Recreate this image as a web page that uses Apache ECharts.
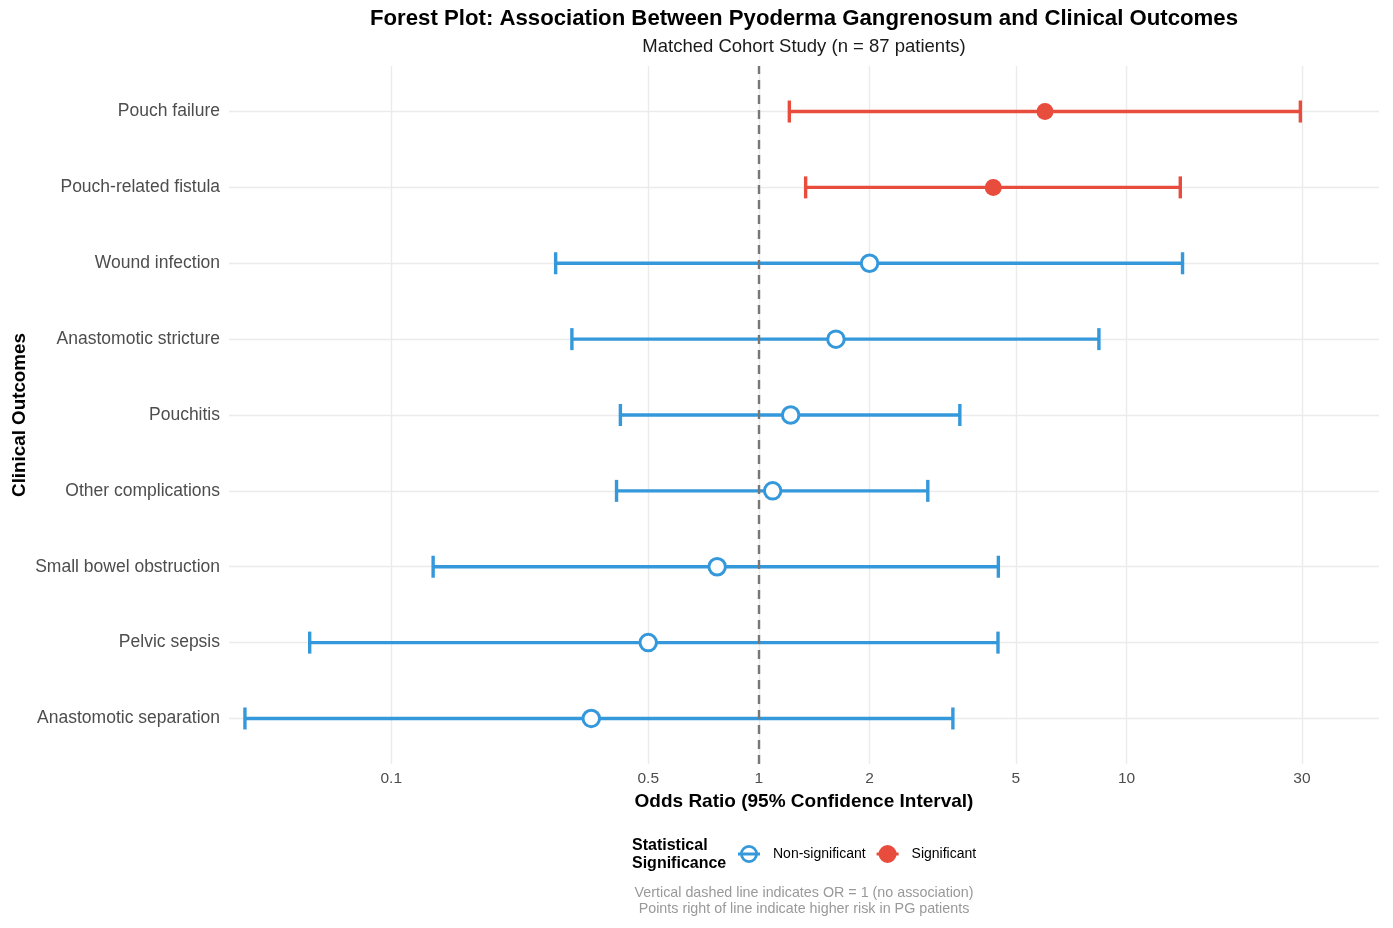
<!DOCTYPE html>
<html><head><meta charset="utf-8">
<script src="https://cdn.jsdelivr.net/npm/echarts@6/dist/echarts.min.js"></script>
<style>html,body{margin:0;padding:0;background:#fff}#c{width:1393px;height:928px}</style>
</head><body><div id="c"></div>
<script>
// ---- data (top row first) ----
const outcomes = ['Pouch failure','Pouch-related fistula','Wound infection','Anastomotic stricture','Pouchitis','Other complications','Small bowel obstruction','Pelvic sepsis','Anastomotic separation'];
const oddsRatio = [6.0, 4.34, 2.0, 1.62, 1.22, 1.09, 0.77, 0.50, 0.35];
const ciLower  = [1.21, 1.34, 0.28, 0.31, 0.42, 0.41, 0.13, 0.06, 0.04];
const ciUpper  = [29.7, 14.0, 14.2, 8.41, 3.52, 2.88, 4.48, 4.47, 3.37];
const xTicks = [0.1, 0.5, 1, 2, 5, 10, 30];
const legendNames = ['Non-significant', 'Significant'];

const FONT = 'Liberation Sans, Arial, Helvetica, sans-serif';
const BLUE = '#3498DB', RED = '#E74C3C';
const n = outcomes.length;
const yIndex = i => n - 1 - i;
const isSig = i => ciLower[i] > 1 || ciUpper[i] < 1;

const barData = {sig: [], non: []};
const ptData = {sig: [], non: []};
outcomes.forEach((o, i) => {
  const k = isSig(i) ? 'sig' : 'non';
  barData[k].push([ciLower[i], ciUpper[i], yIndex(i)]);
  ptData[k].push([oddsRatio[i], yIndex(i)]);
});

function makeBar(color) {
  return function (params, api) {
    const y = api.value(2);
    const p1 = api.coord([api.value(0), y]);
    const p2 = api.coord([api.value(1), y]);
    const h = 11;
    const st = {stroke: color, lineWidth: 3.4};
    return {type: 'group', children: [
      {type: 'line', shape: {x1: p1[0], y1: p1[1], x2: p2[0], y2: p2[1]}, style: st},
      {type: 'line', shape: {x1: p1[0], y1: p1[1] - h, x2: p1[0], y2: p1[1] + h}, style: st},
      {type: 'line', shape: {x1: p2[0], y1: p2[1] - h, x2: p2[0], y2: p2[1] + h}, style: st}
    ]};
  };
}

const ringIcon = 'path://M2,9 A9,9 0 1,1 20,9 A9,9 0 1,1 2,9 Z M4.8,9 A6.2,6.2 0 1,0 17.2,9 A6.2,6.2 0 1,0 4.8,9 Z M0,7.6 L22,7.6 L22,10.4 L0,10.4 Z';
const dotIcon = 'path://M2,9 A9,9 0 1,1 20,9 A9,9 0 1,1 2,9 Z M0,7.6 L22,7.6 L22,10.4 L0,10.4 Z';

const option = {
  backgroundColor: '#fff',
  animation: false,
  textStyle: {fontFamily: FONT},
  title: [
    {text: 'Forest Plot: Association Between Pyoderma Gangrenosum and Clinical Outcomes',
     subtext: 'Matched Cohort Study (n = 87 patients)',
     left: 804, top: 8, textAlign: 'center', padding: 0, itemGap: 7,
     textStyle: {fontSize: 22.2, fontWeight: 'bold', color: '#000', fontFamily: FONT},
     subtextStyle: {fontSize: 18.5, color: '#1a1a1a', fontFamily: FONT}},
    {text: 'Statistical\nSignificance', left: 632, top: 837, padding: 0,
     textStyle: {fontSize: 16, fontWeight: 'bold', color: '#000', lineHeight: 17.5, fontFamily: FONT}},
    {text: 'Vertical dashed line indicates OR = 1 (no association)\nPoints right of line indicate higher risk in PG patients',
     left: 804, top: 885.5, textAlign: 'center', padding: 0,
     textStyle: {fontSize: 14.3, fontWeight: 'normal', color: '#999999', lineHeight: 15.5, fontFamily: FONT}}
  ],
  legend: {
    left: 738, top: 845, padding: 0, orient: 'horizontal', itemWidth: 22, itemHeight: 18, itemGap: 11,
    selectedMode: false,
    textStyle: {fontSize: 14, color: '#000', padding: [0, 0, 0, 8], fontFamily: FONT},
    data: [{name: legendNames[0], icon: ringIcon}, {name: legendNames[1], icon: dotIcon}]
  },
  grid: {left: 229, right: 14, top: 66, bottom: 164, containLabel: false, outerBoundsMode: 'none'},
  xAxis: {
    type: 'log', logBase: 10, min: 0.0362, max: 48.6,
    name: 'Odds Ratio (95% Confidence Interval)', nameLocation: 'middle', nameGap: 24,
    nameTextStyle: {fontSize: 19, fontWeight: 'bold', color: '#000', fontFamily: FONT},
    axisLine: {show: false}, axisTick: {show: false, customValues: xTicks},
    axisLabel: {customValues: xTicks, margin: 7, fontSize: 15.5, color: '#4d4d4d', fontFamily: FONT,
      formatter: v => String(v)},
    splitLine: {show: true, lineStyle: {color: '#ebebeb', width: 1.4}},
    minorSplitLine: {show: false}
  },
  yAxis: {
    type: 'value', min: -0.6, max: 8.6,
    name: 'Clinical Outcomes', nameLocation: 'middle', nameRotate: 90, nameGap: 200,
    nameMoveOverlap: false,
    nameTextStyle: {fontSize: 18.8, fontWeight: 'bold', color: '#000', fontFamily: FONT},
    axisLine: {show: false},
    axisTick: {show: false, customValues: outcomes.map((o, i) => yIndex(i))},
    axisLabel: {customValues: outcomes.map((o, i) => yIndex(i)), margin: 9, fontSize: 17.5, color: '#4d4d4d', fontFamily: FONT,
      formatter: v => outcomes[n - 1 - Math.round(v)]},
    splitLine: {show: true, lineStyle: {color: '#ebebeb', width: 1.4}}
  },
  series: [
    {type: 'scatter', name: 'ref', data: [], z: 1,
     markLine: {silent: true, symbol: ['none', 'none'], label: {show: false},
       lineStyle: {type: [9, 6], color: '#777777', width: 2.4},
       data: [{xAxis: 1}]}},
    {type: 'custom', name: legendNames[0], renderItem: makeBar(BLUE), data: barData.non,
     encode: {x: [0, 1], y: 2}, itemStyle: {color: BLUE}, z: 2},
    {type: 'custom', name: legendNames[1], renderItem: makeBar(RED), data: barData.sig,
     encode: {x: [0, 1], y: 2}, itemStyle: {color: RED}, z: 2},
    {type: 'scatter', name: legendNames[0], data: ptData.non, symbol: 'circle', symbolSize: 16.5,
     itemStyle: {color: '#fff', borderColor: BLUE, borderWidth: 3, opacity: 1}, z: 3},
    {type: 'scatter', name: legendNames[1], data: ptData.sig, symbol: 'circle', symbolSize: 17,
     itemStyle: {color: RED, opacity: 1}, z: 3}
  ]
};
const chart = echarts.init(document.getElementById('c'), null, {renderer: 'canvas'});
chart.setOption(option);
</script></body></html>
